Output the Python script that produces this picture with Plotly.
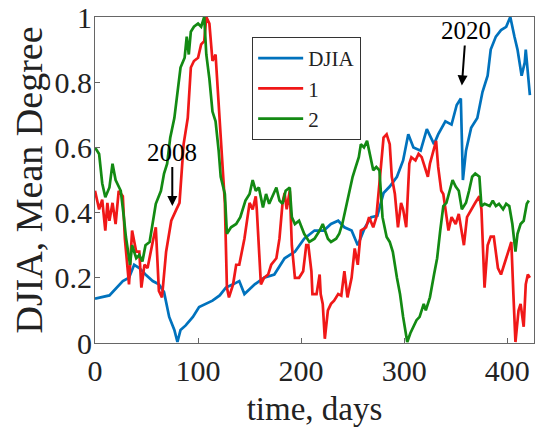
import plotly.graph_objects as go

# DJIA (blue)
djia_day = [0, 14, 27, 33, 38, 43, 49, 56, 62, 67, 72, 77, 80, 83, 88, 95, 101, 108, 114, 121, 127,
            134, 140, 145, 155, 164, 174, 184, 194, 203, 213, 222, 229, 236, 242, 249, 255, 262, 268,
            274, 280, 286, 293, 299, 304, 309, 316, 322, 329, 333, 340, 346, 351, 355, 357, 360, 365,
            371, 376, 381, 384, 389, 394, 399, 403, 407, 410, 414, 417, 418, 422]
djia_val = [0.136, 0.146, 0.19, 0.20, 0.24, 0.23, 0.21, 0.19, 0.18, 0.156, 0.08, 0.04, 0.003, 0.04,
            0.054, 0.08, 0.11, 0.12, 0.13, 0.146, 0.17, 0.18, 0.19, 0.15, 0.18, 0.20, 0.21, 0.26,
            0.28, 0.32, 0.345, 0.345, 0.365, 0.375, 0.355, 0.345, 0.30, 0.355, 0.386, 0.39, 0.46,
            0.48, 0.51, 0.56, 0.64, 0.60, 0.59, 0.656, 0.61, 0.64, 0.68, 0.67, 0.73, 0.75, 0.50,
            0.59, 0.66, 0.69, 0.77, 0.82, 0.90, 0.94, 0.96, 0.97, 1.0, 0.94, 0.90, 0.82, 0.86,
            0.90, 0.76]

# Series 1 (red)
s1_day = [0, 4, 7, 10, 12, 14, 17, 20, 23, 27, 29, 31, 33, 36, 40, 43, 45, 48, 51, 56, 59, 62, 65,
          69, 74, 79, 82, 86, 90, 93, 96, 100, 103, 106, 108, 111, 114, 117, 119, 122, 126, 128,
          130, 134, 137, 140, 145, 150, 153, 156, 157, 161, 164, 168, 171, 176, 179, 182, 184,
          186, 189, 191, 194, 198, 202, 205, 207, 210, 211, 215, 218, 219, 221, 223, 226, 229,
          232, 236, 239, 242, 245, 249, 252, 255, 258, 263, 266, 270, 273, 276, 278, 280, 283,
          286, 288, 291, 294, 297, 299, 302, 305, 307, 311, 314, 317, 320, 323, 325, 329, 331,
          333, 336, 338, 340, 343, 346, 350, 353, 356, 358, 361, 365, 369, 373, 375, 378, 381,
          384, 387, 391, 394, 398, 401, 404, 406, 408, 411, 413, 416, 418, 420, 422]
s1_val = [0.467, 0.41, 0.44, 0.345, 0.43, 0.375, 0.43, 0.365, 0.467, 0.45, 0.32, 0.24, 0.18, 0.345,
          0.28, 0.28, 0.17, 0.24, 0.23, 0.31, 0.355, 0.16, 0.14, 0.28, 0.375, 0.41, 0.43, 0.61,
          0.69, 0.845, 0.865, 0.875, 0.916, 0.926, 1.0, 0.98, 0.865, 0.885, 0.78, 0.61, 0.43,
          0.17, 0.14, 0.18, 0.24, 0.24, 0.32, 0.43, 0.41, 0.45, 0.41, 0.18, 0.20, 0.21, 0.24,
          0.26, 0.32, 0.43, 0.46, 0.41, 0.467, 0.30, 0.20, 0.20, 0.22, 0.30, 0.30, 0.22, 0.15,
          0.15, 0.21, 0.15, 0.12, 0.013, 0.10, 0.12, 0.13, 0.15, 0.145, 0.22, 0.14, 0.20, 0.29,
          0.24, 0.345, 0.355, 0.386, 0.355, 0.386, 0.49, 0.55, 0.63, 0.64, 0.61, 0.51, 0.457,
          0.355, 0.43, 0.41, 0.355, 0.55, 0.57, 0.56, 0.58, 0.57, 0.54, 0.51, 0.55, 0.60, 0.62,
          0.54, 0.467, 0.457, 0.41, 0.345, 0.386, 0.365, 0.396, 0.345, 0.30, 0.386, 0.41, 0.43,
          0.45, 0.41, 0.17, 0.30, 0.326, 0.326, 0.23, 0.21, 0.25, 0.28, 0.31, 0.15, 0.003, 0.10,
          0.12, 0.05, 0.18, 0.21, 0.20]

# Series 2 (green)
s2_day = [0, 4, 7, 10, 14, 17, 20, 25, 28, 30, 34, 36, 40, 43, 46, 49, 53, 56, 59, 64, 67, 70, 73,
          77, 80, 83, 87, 89, 91, 93, 96, 100, 103, 106, 108, 111, 114, 117, 120, 122, 126, 128,
          132, 137, 141, 146, 150, 153, 156, 159, 163, 166, 169, 172, 176, 179, 182, 185, 189,
          191, 194, 198, 203, 208, 213, 218, 221, 226, 229, 234, 237, 240, 243, 247, 250, 253,
          256, 258, 261, 264, 266, 270, 273, 276, 279, 283, 286, 289, 293, 296, 299, 303, 306,
          309, 312, 315, 319, 321, 325, 329, 332, 335, 338, 341, 344, 347, 350, 353, 356, 360,
          363, 366, 369, 373, 375, 378, 383, 386, 389, 392, 396, 399, 402, 405, 408, 410, 413,
          416, 419, 421]
s2_val = [0.60, 0.58, 0.49, 0.447, 0.477, 0.55, 0.50, 0.467, 0.386, 0.325, 0.24, 0.30, 0.26, 0.27,
          0.25, 0.30, 0.31, 0.365, 0.427, 0.467, 0.52, 0.55, 0.63, 0.69, 0.77, 0.845, 0.875, 0.94,
          0.885, 0.955, 0.97, 0.98, 0.97, 1.0, 0.885, 0.81, 0.71, 0.68, 0.59, 0.51, 0.457, 0.335,
          0.355, 0.365, 0.386, 0.437, 0.457, 0.50, 0.467, 0.477, 0.416, 0.457, 0.427, 0.447,
          0.477, 0.437, 0.427, 0.467, 0.477, 0.386, 0.365, 0.375, 0.335, 0.31, 0.32, 0.345,
          0.365, 0.32, 0.31, 0.32, 0.335, 0.365, 0.41, 0.467, 0.51, 0.54, 0.57, 0.61, 0.60, 0.62,
          0.59, 0.53, 0.54, 0.53, 0.386, 0.325, 0.31, 0.28, 0.20, 0.15, 0.08, 0.003, 0.03, 0.05,
          0.07, 0.08, 0.12, 0.10, 0.14, 0.21, 0.26, 0.345, 0.42, 0.43, 0.467, 0.50, 0.48, 0.467,
          0.41, 0.43, 0.467, 0.51, 0.52, 0.51, 0.42, 0.427, 0.42, 0.437, 0.42, 0.427, 0.41,
          0.427, 0.42, 0.365, 0.28, 0.335, 0.365, 0.375, 0.427, 0.437]

y_ticks = [0, 0.2, 0.4, 0.6, 0.8, 1]
y_tick_labels = ["0", "0.2", "0.4", "0.6", "0.8", "1"]
x_ticks = [0, 100, 200, 300, 400]

FONT = "Liberation Serif, Times New Roman, serif"

fig = go.Figure()
fig.add_trace(go.Scatter(x=djia_day, y=djia_val, mode="lines", name="DJIA",
                         line=dict(color="#0072BD", width=2.7)))
fig.add_trace(go.Scatter(x=s1_day, y=s1_val, mode="lines", name="1",
                         line=dict(color="#F01818", width=2.7)))
fig.add_trace(go.Scatter(x=s2_day, y=s2_val, mode="lines", name="2",
                         line=dict(color="#138A13", width=2.7)))

fig.add_annotation(x=75, y=0.42, text="2008", showarrow=True, ax=0, ay=-54,
                   arrowhead=2, arrowsize=1, arrowwidth=2, arrowcolor="black",
                   font=dict(family=FONT, size=25, color="black"))
fig.add_annotation(x=356, y=0.79, text="2020", showarrow=True, ax=4, ay=-55,
                   arrowhead=2, arrowsize=1, arrowwidth=2, arrowcolor="black",
                   font=dict(family=FONT, size=25, color="black"))

axis_common = dict(showline=True, mirror=True, linecolor="#666666", linewidth=1,
                   ticks="inside", ticklen=5, tickcolor="#666666", showgrid=False,
                   zeroline=False, automargin=False, ticklabeloverflow="allow",
                   tickfont=dict(family=FONT, size=30, color="#222222"))

fig.update_layout(
    width=537, height=427,
    margin=dict(l=95, r=3, t=17, b=84),
    paper_bgcolor="white", plot_bgcolor="white",
    font=dict(family=FONT, color="#222222"),
    showlegend=True,
    legend=dict(x=0.358, y=0.939, xanchor="left", yanchor="top",
                bgcolor="white", bordercolor="#333333", borderwidth=1,
                font=dict(family=FONT, size=21, color="#222222"),
                tracegroupgap=0, itemwidth=45),
    xaxis=dict(range=[0, 426], tickvals=x_ticks, ticklabelstandoff=1,
               title=dict(text="time, days", font=dict(family=FONT, size=33), standoff=13),
               **axis_common),
    yaxis=dict(range=[0, 1], tickvals=y_ticks, ticktext=y_tick_labels, ticklabelstandoff=-4,
               title=dict(text="DJIA, Mean Degree", font=dict(family=FONT, size=38), standoff=0),
               **axis_common),
)

# remove the browser's default 8px page margin so the figure fills the window
fig.write_html("out.html", config={"displayModeBar": False},
               post_script="document.body.style.margin='0';")
